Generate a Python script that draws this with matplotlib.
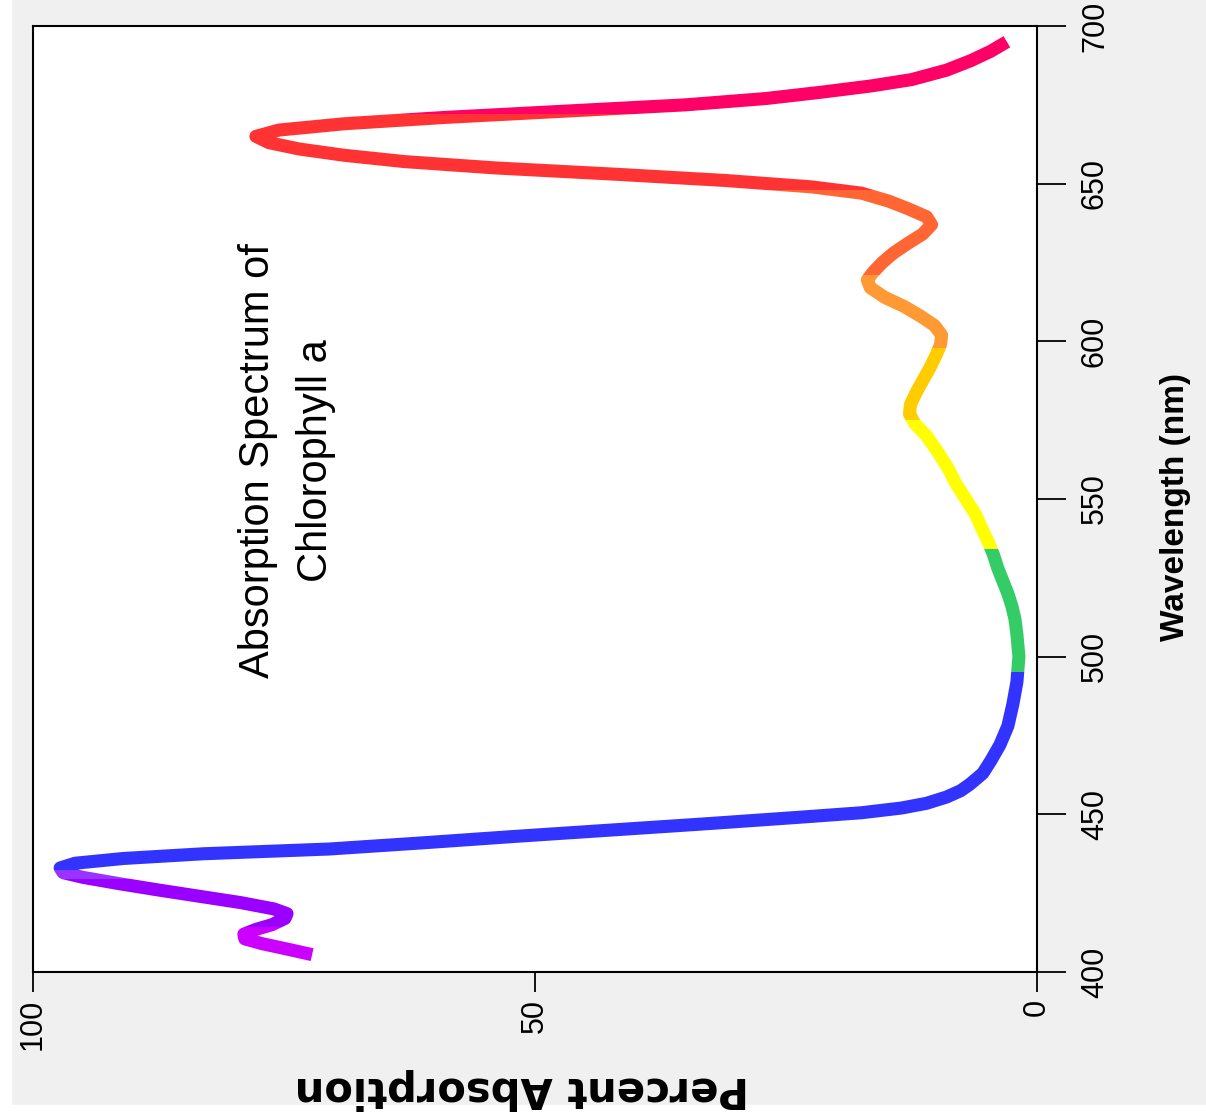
import matplotlib.pyplot as plt
from matplotlib.patches import Rectangle

# absorption spectrum (wavelength nm, percent absorption)
wavelength = [405.5, 407, 409, 410.5, 412, 413.5, 415, 417, 418.5, 420, 422, 424, 426, 428,
              430, 431.5, 433, 434.5, 436, 437.5, 439, 441, 443, 445, 447, 449, 450.5, 452,
              453.5, 455.5, 457.5, 459.5, 463, 467, 472, 478, 485, 492, 500, 507, 512, 516,
              520, 524, 528, 532, 536, 540, 545, 550, 555, 560, 565, 570, 574, 577, 580, 584,
              588, 592, 596, 599, 602, 605, 608, 611, 614, 617, 619.5, 622, 625, 628, 631,
              634, 637, 639.5, 642, 644.5, 647, 649, 651, 653, 655, 657, 659, 661, 663, 665,
              667, 669, 671, 673, 675, 677, 679, 681, 683, 686, 689, 692, 695]
absorption = [72.2, 74.3, 77.2, 78.9, 79.0, 77.8, 76.2, 74.9, 74.7, 76.0, 79.3, 83.4, 87.5, 91.4,
              95.0, 97.0, 97.3, 95.8, 91.0, 83.0, 70.5, 61.0, 52.0, 42.5, 33.0, 24.0, 17.5, 13.5,
              11.0, 9.0, 7.6, 6.7, 5.4, 4.6, 3.7, 2.9, 2.4, 2.0, 1.8, 2.0, 2.2, 2.5,
              2.9, 3.4, 3.9, 4.3, 4.8, 5.4, 6.1, 7.1, 8.1, 8.9, 9.9, 11.0, 12.2, 12.7, 12.6, 12.0,
              11.3, 10.6, 10.0, 9.6, 9.5, 10.2, 11.6, 13.2, 15.2, 16.6, 16.9, 16.3, 15.4, 14.3, 12.9,
              11.4, 10.5, 11.0, 12.8, 14.8, 17.5, 22.5, 31.0, 42.0, 54.0, 63.0, 69.0, 73.5, 76.5, 77.8,
              75.5, 69.0, 59.0, 47.0, 35.0, 27.0, 21.5, 16.5, 12.5, 9.0, 6.6, 4.6, 3.0]

# colour bands along the wavelength axis
band_edges = [400, 414.3, 429.5, 432.3, 495, 534, 575, 598, 621, 648, 672, 700]
band_colors = ['#cc00ff', '#9900ff', '#9933ff', '#3333ff', '#33cc66', '#ffff00',
               '#ffcc00', '#ff9933', '#ff6633', '#ff3333', '#ff0066']

x_ticks = [0, 50, 100]
y_ticks = [400, 450, 500, 550, 600, 650, 700]

plt.rcParams['font.family'] = ['Liberation Sans', 'DejaVu Sans']

fig = plt.figure(figsize=(12.06, 11.18), dpi=100, facecolor='#f0f0f0')
fig.patches.append(Rectangle((0, 0), 11 / 1206, 1, transform=fig.transFigure,
                             color='white', zorder=-1))
fig.patches.append(Rectangle((0, 0), 1, 13 / 1118, transform=fig.transFigure,
                             color='white', zorder=-1))

ax = fig.add_axes([33 / 1206, 1 - 972 / 1118, 1004 / 1206, 946 / 1118])
ax.set_facecolor('white')

# one line per colour band, clipped to its wavelength range
for lo, hi, c in zip(band_edges[:-1], band_edges[1:], band_colors):
    line, = ax.plot(absorption, wavelength, color=c, lw=9.4,
                    solid_capstyle='butt', solid_joinstyle='round')
    line.set_clip_path(Rectangle((-5, lo), 110, hi - lo, transform=ax.transData))

ax.set_xlim(100, 0)
ax.set_ylim(400, 700)
ax.yaxis.tick_right()
ax.set_xticks(x_ticks)
ax.set_yticks(y_ticks)
ax.tick_params(axis='y', direction='out', length=20.9, width=1.3, pad=10,
               labelsize=22, labelrotation=90)
ax.tick_params(axis='x', direction='out', length=14.4, width=1.3, pad=5,
               labelsize=22, labelrotation=90)
for lab in ax.get_yticklabels():
    lab.set_va('center')
for sp in ax.spines.values():
    sp.set_linewidth(1.5)

ax.text(0.253, 0.541, 'Absorption Spectrum of\nChlorophyll a', transform=ax.transAxes,
        rotation=90, ha='center', va='center', multialignment='center',
        fontsize=30, linespacing=1.6)

ax.yaxis.set_label_position('right')
ax.set_ylabel('Wavelength (nm)', fontsize=24, fontweight='bold', rotation=90)
ax.yaxis.set_label_coords(1.1375, 0.4915)
ax.yaxis.label.set_va('center')

ax.set_xlabel('Percent Absorption', fontsize=30, fontweight='bold', rotation=180,
              family='DejaVu Sans')
ax.xaxis.set_label_coords(0.487, -0.1237)
ax.xaxis.label.set_va('center')

fig.savefig('out.png', dpi=100, facecolor=fig.get_facecolor())
